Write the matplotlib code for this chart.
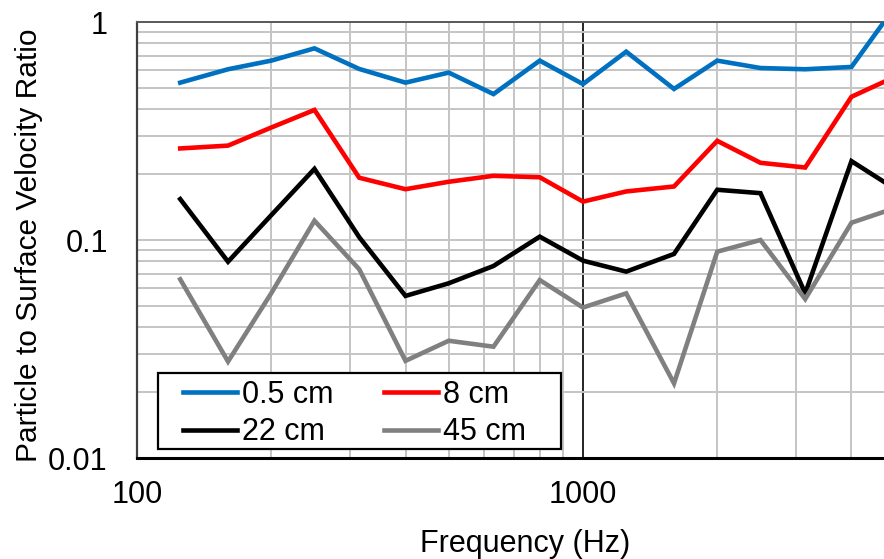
import matplotlib
matplotlib.use('Agg')
import matplotlib.pyplot as plt
import matplotlib.ticker as ticker
from matplotlib.patches import Rectangle

plt.rcParams['font.family'] = ['Liberation Sans', 'DejaVu Sans']

freq = [125, 160, 200, 250, 315, 400, 500, 630, 800, 1000,
        1250, 1600, 2000, 2500, 3150, 4000, 5000]

ratio_05cm = [0.527, 0.607, 0.665, 0.757, 0.609, 0.527, 0.586, 0.467, 0.665, 0.519,
              0.731, 0.493, 0.665, 0.615, 0.607, 0.622, 1.17]
ratio_8cm = [0.263, 0.271, 0.328, 0.395, 0.193, 0.171, 0.185, 0.197, 0.194, 0.150,
             0.167, 0.176, 0.285, 0.226, 0.215, 0.454, 0.56]
ratio_22cm = [0.154, 0.0795, 0.130, 0.212, 0.103, 0.0554, 0.0633, 0.076, 0.1036, 0.0804,
              0.0716, 0.0863, 0.170, 0.164, 0.0569, 0.230, 0.172]
ratio_45cm = [0.066, 0.0277, 0.057, 0.1226, 0.0734, 0.0279, 0.0345, 0.0324, 0.0655, 0.049,
              0.0569, 0.022, 0.0884, 0.100, 0.0536, 0.120, 0.140]

series = [
    ('0.5 cm', ratio_05cm, '#0070c0'),
    ('8 cm', ratio_8cm, '#ff0000'),
    ('22 cm', ratio_22cm, '#000000'),
    ('45 cm', ratio_45cm, '#808080'),
]

W, H = 884, 559
fig = plt.figure(figsize=(W / 100, H / 100), dpi=100)
# plot area runs from 100 Hz to 5000 Hz; the right edge sits just past the canvas
ax = fig.add_axes([137 / W, (H - 458) / H, 757.7 / W, 436 / H])

handles = []
for name, vals, col in series:
    h, = ax.plot(freq, vals, color=col, lw=3.3, label=name, zorder=3,
                 solid_joinstyle='miter')
    handles.append(h)

ax.set_xscale('log')
ax.set_yscale('log')
ax.set_xlim(100, 5000)
ax.set_ylim(0.01, 1)

ax.set_xticks([100, 1000], labels=['100', '1000'])
ax.set_yticks([0.01, 0.1, 1], labels=['0.01', '0.1', '1'])
ax.xaxis.set_minor_locator(ticker.LogLocator(base=10, subs=range(2, 10)))
ax.yaxis.set_minor_locator(ticker.LogLocator(base=10, subs=range(2, 10)))
ax.xaxis.set_minor_formatter(ticker.NullFormatter())
ax.yaxis.set_minor_formatter(ticker.NullFormatter())
ax.tick_params(axis='both', which='both', length=0, labelsize=22)
ax.tick_params(axis='x', pad=16)
ax.tick_params(axis='y', pad=21)

ax.set_axisbelow(True)
ax.grid(which='minor', axis='both', color='#c4c4c4', lw=1.4)
ax.grid(which='major', axis='y', color='#c4c4c4', lw=1.4)
ax.grid(which='major', axis='x', color='black', lw=1.2)

ax.spines['top'].set_color('#595959')
ax.spines['top'].set_linewidth(1.4)
ax.spines['left'].set_color('#404040')
ax.spines['left'].set_linewidth(1.6)
ax.spines['bottom'].set_color('black')
ax.spines['bottom'].set_linewidth(2.2)
ax.spines['right'].set_visible(False)

fig.text(525 / W, 7 / H, 'Frequency (Hz)', fontsize=22, ha='center', va='baseline')
fig.text(29 / W, (H - 245) / H, 'Particle to Surface Velocity Ratio', fontsize=21.5,
         rotation=90, ha='center', va='center')

# legend box with its entries, filled row by row
box = Rectangle((158 / W, (H - 449) / H), 403 / W, 76 / H,
                transform=fig.transFigure, facecolor='white',
                edgecolor='black', lw=1.6, zorder=4, clip_on=False)
ax.add_patch(box)
order = [0, 2, 1, 3]
leg = ax.legend(handles=[handles[i] for i in order], ncol=2, loc='upper left',
                bbox_to_anchor=(183 / W, (H - 380) / H), bbox_transform=fig.transFigure,
                frameon=False, fontsize=22, handlelength=1.77, handletextpad=0.16,
                columnspacing=1.65, labelspacing=0.24, borderpad=0, borderaxespad=0)
leg.set_zorder(5)

fig.savefig('out.png', dpi=100)
